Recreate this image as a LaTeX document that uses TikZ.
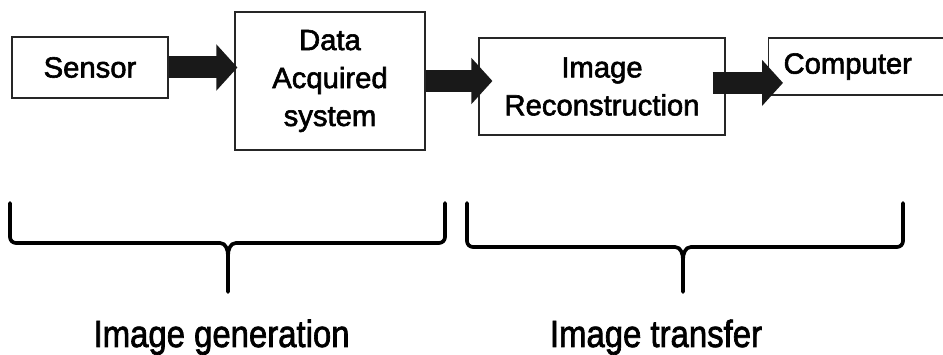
\documentclass[tikz,border=0pt]{standalone}
\usepackage{fontspec}
\setmainfont{Liberation Sans}[FakeBold=2]
\usepackage{graphicx}
\usetikzlibrary{arrows.meta,calc,positioning}

\begin{document}
\begin{tikzpicture}[
    box/.style={draw=black!85,line width=0.8pt,align=center,inner sep=0pt,
      font=\fontsize{20.8}{27}\selectfont},
    flow/.style={line width=0.55cm,draw=black!90,
      -{Triangle[length=0.525cm,width=1.125cm]}},
    brace/.style={line width=2.6pt,line join=round,line cap=round},
    caption/.style={anchor=base,font=\fontsize{23.4}{28}\selectfont}
  ]
  \path[use as bounding box] (0,0) rectangle (23.575,-8.875);

  % processing chain
  \node[box,minimum width=3.9cm,minimum height=1.525cm] (sensor) at (2.25,-1.6875) {Sensor};
  \node[box,minimum width=4.75cm,minimum height=3.45cm] (daq) at (8.25,-2.025) {Data\\Acquired\\system};
  \node[box,minimum width=6.15cm,minimum height=2.425cm] (recon) at (15.05,-2.1625) {Image\\Reconstruction};
  \node[box,anchor=west,minimum height=1.425cm,text width=4.6cm,align=left,inner xsep=0.375cm] (comp) at (19.2,-1.6625) {Computer};

  \draw[flow] (sensor.east) -- ($(daq.west |- sensor.east)+(0.075,0)$);
  \draw[flow] (daq.east) -- ($(recon.west |- daq.east)+(0.35,0)$);
  \draw[flow] ($(recon.east)+(-0.325,0.09)$) -- ($(comp.west |- recon.east)+(0.375,0.09)$);

  % grouping brackets
  \draw[brace] (0.25,-5.075) -- (0.25,-5.925) to[out=-90,in=180] (0.4,-6.075) -- (5.5,-6.075)
    to[out=0,in=90] (5.7,-6.4) -- (5.7,-7.3)
    (5.7,-6.4) to[out=90,in=180] (5.9,-6.075) -- (10.975,-6.075)
    to[out=0,in=-90] (11.125,-5.925) -- (11.125,-5.075);
  \draw[brace] (11.675,-5.075) -- (11.675,-6.025) to[out=-90,in=180] (11.825,-6.175) -- (16.875,-6.175)
    to[out=0,in=90] (17.075,-6.5) -- (17.075,-7.3)
    (17.075,-6.5) to[out=90,in=180] (17.275,-6.175) -- (22.425,-6.175)
    to[out=0,in=-90] (22.575,-6.025) -- (22.575,-5.075);

  \node[caption] (gen) at (5.54,-8.675) {\scalebox{1}[1.15]{Image generation}};
  \node[caption] (transfer) at (16.4,-8.675) {\scalebox{1}[1.15]{Image transfer}};

\end{tikzpicture}
\end{document}
